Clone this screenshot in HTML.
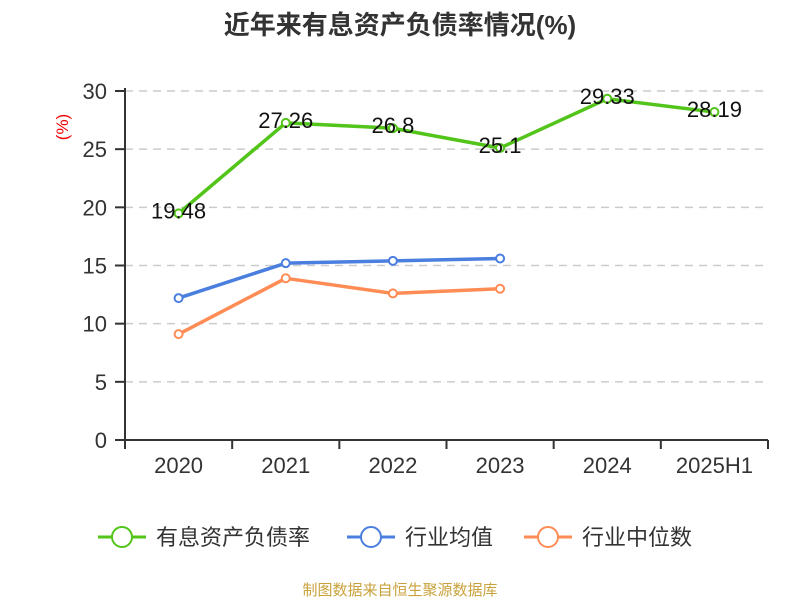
<!DOCTYPE html>
<html><head><meta charset="utf-8"><style>
body{margin:0;background:#fff;}
svg{display:block;font-family:"Liberation Sans","Noto Sans CJK SC",sans-serif;}
</style></head><body>
<svg id="c" width="800" height="600">
<text x="400" y="34" text-anchor="middle" font-size="26" font-weight="bold" fill="#333">近年来有息资产负债率情况(%)</text>
<text transform="translate(68,127) rotate(-90)" text-anchor="middle" font-size="17" fill="#e00">(%)</text>
<g id="grid"></g>
<g id="axes"></g>
<g id="series"></g>
<g>
 <g><line x1="98" y1="537" x2="146" y2="537" stroke="#52c41a" stroke-width="3"/><circle cx="122" cy="537" r="10" fill="#fff" stroke="#52c41a" stroke-width="2"/><text x="156" y="545" font-size="22" fill="#333">有息资产负债率</text></g>
 <g><line x1="347" y1="537" x2="395" y2="537" stroke="#4a7fe0" stroke-width="3"/><circle cx="371" cy="537" r="10" fill="#fff" stroke="#4a7fe0" stroke-width="2"/><text x="405" y="545" font-size="22" fill="#333">行业均值</text></g>
 <g><line x1="524" y1="537" x2="572" y2="537" stroke="#ff8c55" stroke-width="3"/><circle cx="548" cy="537" r="10" fill="#fff" stroke="#ff8c55" stroke-width="2"/><text x="582" y="545" font-size="22" fill="#333">行业中位数</text></g>
</g>
<text x="400" y="595" text-anchor="middle" font-size="15" fill="#c9a23c">制图数据来自恒生聚源数据库</text>
</svg>
<script>
const categories=["2020","2021","2022","2023","2024","2025H1"];
const debtRatio=[19.48,27.26,26.8,25.1,29.33,28.19];
const industryAvg=[12.2,15.2,15.4,15.6];
const industryMedian=[9.1,13.9,12.6,13.0];
const yTicks=[0,5,10,15,20,25,30];
const NS="http://www.w3.org/2000/svg";
const L=125,R=768,T=91,B=440,yMax=30;
const bw=(R-L)/categories.length;
const x=i=>L+bw*(i+0.5);
const y=v=>B-(v/yMax)*(B-T);
function mk(tag,a,p){const e=document.createElementNS(NS,tag);for(const k in a)e.setAttribute(k,a[k]);p.appendChild(e);return e;}
const grid=document.getElementById('grid'),axes=document.getElementById('axes'),ser=document.getElementById('series');
yTicks.forEach(t=>{
 if(t>0){const g=mk('line',{x1:L,x2:R,y1:y(t),y2:y(t),stroke:'#ccc','stroke-dasharray':'8,6','stroke-width':1.5},grid);
 
 }
 const tk=mk('line',{x1:L-10,x2:L,y1:y(t),y2:y(t),stroke:'#333','stroke-width':2},axes);
 
 
 const tl=mk('text',{x:L-18,y:y(t)+8,'text-anchor':'end','font-size':22,fill:'#333'},axes);tl.textContent=t;
 
 
});
const ya=mk('line',{x1:L,x2:L,y1:T-3,y2:B,stroke:'#333','stroke-width':2},axes);


const xa=mk('line',{x1:L,x2:R,y1:B,y2:B,stroke:'#333','stroke-width':2},axes);


for(let i=0;i<=categories.length;i++){const t=mk('line',{x1:L+bw*i,x2:L+bw*i,y1:B,y2:B+9,stroke:'#333','stroke-width':2},axes);
 
 }
categories.forEach((c,i)=>{const t=mk('text',{x:x(i),y:B+33,'text-anchor':'middle','font-size':22,fill:'#333'},axes);t.textContent=c;
 
 });
function line(vals,color,name,labels){
 const g=mk('g',{},ser);
 
 
 const p=mk('polyline',{points:vals.map((v,i)=>x(i)+','+y(v)).join(' '),fill:'none',stroke:color,'stroke-width':3.5,'stroke-linejoin':'round'},g);
 
 
 vals.forEach((v,i)=>{const c=mk('circle',{cx:x(i),cy:y(v),r:4,fill:'#fff',stroke:color,'stroke-width':2},g);
  
  
  if(labels){const t=mk('text',{x:x(i),y:y(v)+5,'text-anchor':'middle','font-size':22,fill:'#111'},g);t.textContent=v;
   
   }
 });
}
line(industryMedian,'#ff8c55','industry-median',false);
line(industryAvg,'#4a7fe0','industry-avg',false);
line(debtRatio,'#52c41a','debt-ratio',true);
</script>
</body></html>
